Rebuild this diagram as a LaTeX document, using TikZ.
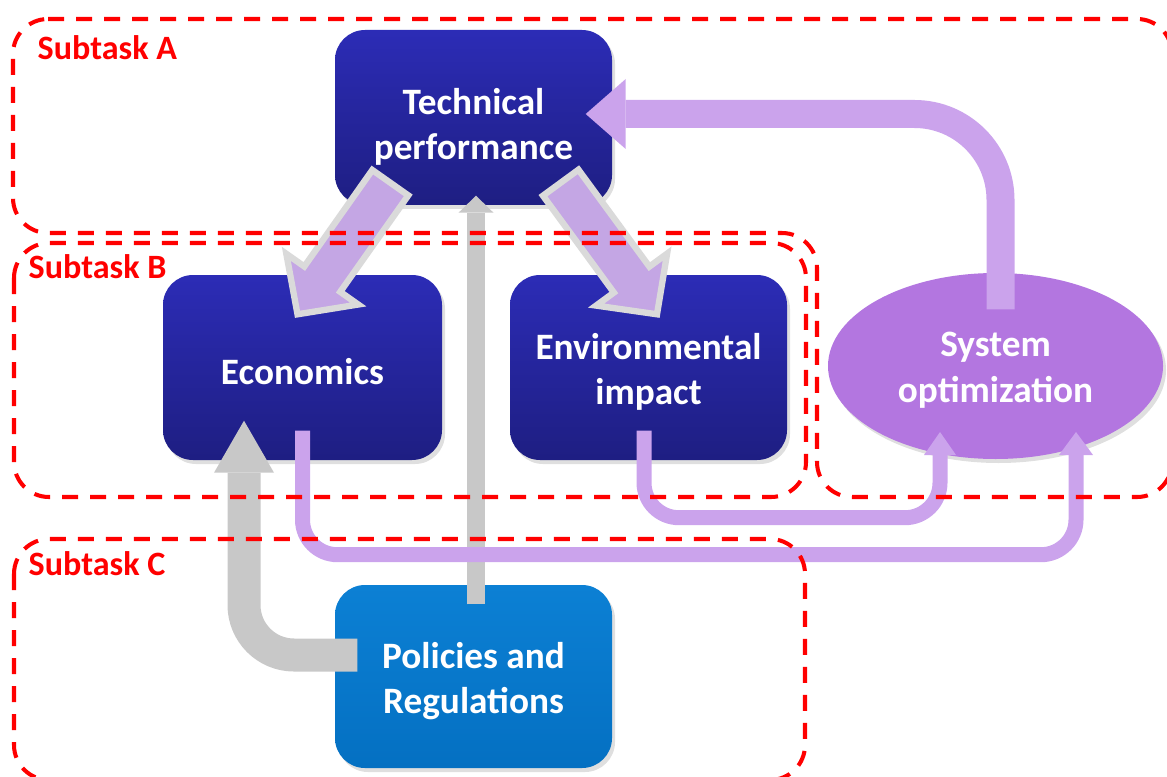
\documentclass[tikz,border=0pt]{standalone}
\usepackage{fontspec}
\setmainfont{Carlito}
\usepackage{tikz}
\usetikzlibrary{calc}
\usetikzlibrary{shapes.geometric, shadows}
\usepackage{xcolor}

\definecolor{boxtop}{RGB}{44,44,182}
\definecolor{boxbot}{RGB}{30,30,130}
\definecolor{poltop}{RGB}{12,128,212}
\definecolor{polbot}{RGB}{4,112,194}
\definecolor{optcol}{RGB}{179,118,224}
\definecolor{pipecol}{RGB}{203,163,236}
\definecolor{bigcol}{RGB}{196,166,228}
\definecolor{silver}{RGB}{218,218,218}
\definecolor{greycol}{RGB}{200,200,200}
\definecolor{taskred}{RGB}{255,0,0}

\tikzset{
  box/.style={rectangle, rounded corners=0.3cm, minimum width=2.77cm, minimum height=1.75cm,
    top color=boxtop, bottom color=boxbot,
    drop shadow={opacity=0.25, shadow xshift=0.03cm, shadow yshift=-0.04cm}},
  boxtext/.style={text=white, font=\fontsize{10.6}{13}\selectfont\bfseries, align=center, yshift=-0.045cm},
  region/.style={draw=taskred, line width=1.15pt, dash pattern=on 0.16cm off 0.12cm, rounded corners=0.35cm},
  tasklabel/.style={text=taskred, font=\fontsize{9.7}{11}\selectfont\bfseries, anchor=west, inner sep=0},
  pipe/.style={draw=pipecol, line width=0.15cm, rounded corners=0.35cm},
  greypipe/.style={draw=greycol, line width=0.33cm, rounded corners=0.5cm},
  bigarrow/.style={fill=bigcol, draw=silver, line width=1.8pt, line join=miter}
}

% block arrow from #1 (tail) to #2 (tip)
\newcommand{\bigarrow}[2]{%
  \coordinate (#1h) at ($(#2)!0.43cm!(#1)$);
  \draw[bigarrow] ($(#1)!0.22cm!90:(#2)$) -- ($(#1h)!0.22cm!90:(#2)$) -- ($(#1h)!0.44cm!90:(#2)$)
    -- (#2) -- ($(#1h)!0.44cm!-90:(#2)$) -- ($(#1h)!0.22cm!-90:(#2)$) -- ($(#1)!0.22cm!-90:(#2)$) -- cycle;}

\begin{document}
\begin{tikzpicture}

\useasboundingbox (0,0) rectangle (11.67,7.76);

\node[box, label={[boxtext, yshift=-0.05cm]center:Technical\\performance}] (tech) at (4.735,6.585) {};
\node[box, minimum width=2.79cm, minimum height=1.85cm, label={[boxtext]center:Economics}] (econ) at (3.025,4.085) {};
\node[box, minimum height=1.85cm, label={[boxtext]center:Environmental\\impact}] (env) at (6.485,4.085) {};
\node[box, minimum height=1.83cm, top color=poltop, bottom color=polbot, label={[boxtext]center:Policies and\\Regulations}] (policy) at (4.735,0.995) {};
\node[ellipse, minimum width=3.35cm, minimum height=1.86cm, fill=optcol,
  drop shadow={opacity=0.25, shadow xshift=0.03cm, shadow yshift=-0.04cm},
  label={[boxtext]center:System\\optimization}] (sysopt) at (9.955,4.10) {};

% grey arrows out of the policies box
\coordinate (n13) at ($(policy.west) + (0.23,0.215)$);
\coordinate (n14) at ($(econ.south) + (-0.585,-0.12)$);
\draw[greypipe] (n13) -| (n14);
\fill[greycol] ($(n14)+(-0.30,0)$) -- ($(n14)+(0,0.52)$) -- ($(n14)+(0.30,0)$) -- cycle;

\coordinate (n15) at ($(policy.north) + (0.025,-0.20)$);
\coordinate (n16) at ($(tech.south) + (0.025,-0.07)$);
\draw[greypipe, line width=0.18cm] (n15) -- (n16);
\fill[greycol] ($(n16)+(-0.175,0)$) -- ($(n16)+(0,0.17)$) -- ($(n16)+(0.175,0)$) -- cycle;

% purple pipes into the optimization
\coordinate (n5) at ($(env.south) + (-0.045,0.30)$);
\coordinate (n7) at ($(sysopt.center) + (-0.555,-0.89)$);
\draw[pipe] (n5) -- ++(0,-0.87) -| (n7);
\fill[pipecol] ($(n7)+(-0.16,0)$) -- ($(n7)+(0,0.23)$) -- ($(n7)+(0.16,0)$) -- cycle;

\coordinate (n9) at ($(econ.south) + (0,0.30)$);
\coordinate (n10) at ($(sysopt.center) + (0.805,-0.89)$);
\draw[pipe] (n9) -- ++(0,-1.24) -| (n10);
\fill[pipecol] ($(n10)+(-0.17,0)$) -- ($(n10)+(0,0.23)$) -- ($(n10)+(0.17,0)$) -- cycle;

\coordinate (n11) at ($(sysopt.north) + (0.05,-0.37)$);
\coordinate (n12) at ($(tech.east) + (0.13,0.035)$);
\draw[pipe, line width=0.28cm, rounded corners=0.86cm] (n11) |- (n12);
\fill[pipecol] ($(n12)+(0,0.35)$) -- ($(n12)+(-0.40,0)$) -- ($(n12)+(0,-0.35)$) -- cycle;

% block arrows out of the technical box
\coordinate (n1) at ($(tech.south west) + (0.56,0.23)$);
\coordinate (n2) at ($(econ.north) + (-0.05,-0.40)$);
\bigarrow{n1}{n2}
\coordinate (n3) at ($(tech.south east) + (-0.52,0.23)$);
\coordinate (n4) at ($(env.north) + (0.085,-0.40)$);
\bigarrow{n3}{n4}

% subtasks
\draw[region] (0.13,7.57) -- (11.72,7.57) -- (11.72,2.79) -- (8.17,2.79) -- (8.17,5.43) -- (0.13,5.43) -- cycle;
\draw[region] (0.14,5.33) rectangle (8.06,2.79);
\draw[region] (0.14,2.37) rectangle (8.05,-0.04);

\node[tasklabel] (subA) at (0.37,7.28) {Subtask A};
\node[tasklabel] (subB) at (0.28,5.09) {Subtask B};
\node[tasklabel] (subC) at (0.28,2.12) {Subtask C};

\end{tikzpicture}
\end{document}
